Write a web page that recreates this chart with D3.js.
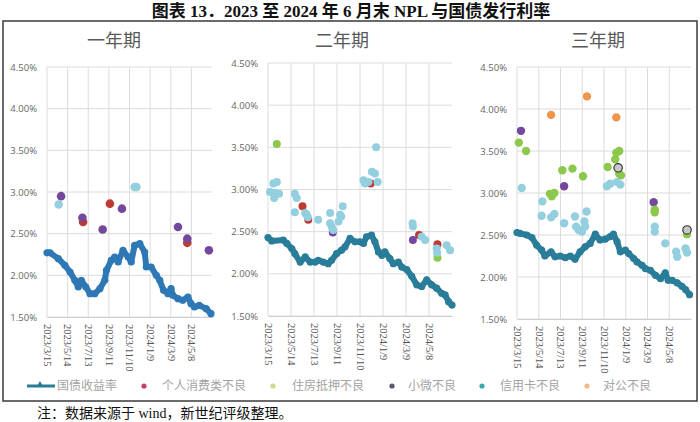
<!DOCTYPE html>
<html><head><meta charset="utf-8">
<script src="https://cdn.jsdelivr.net/npm/d3@7/dist/d3.min.js"></script>
<style>
body{margin:0;background:#fff;}
svg{display:block;}
</style></head>
<body>
<svg id="c" width="700" height="422"></svg>
<script>
// ---------------- DATA ----------------
const chartTitle = "图表 13．2023 至 2024 年 6 月末 NPL 与国债发行利率";
const panelTitles = ["一年期", "二年期", "三年期"];
const tickDates = ["2023/3/15","2023/5/14","2023/7/13","2023/9/11","2023/11/10","2024/1/9","2024/3/9","2024/5/8"];
const yTicks = [1.5, 2.0, 2.5, 3.0, 3.5, 4.0, 4.5];
const seriesNames = ["国债收益率","个人消费类不良","住房抵押不良","小微不良","信用卡不良","对公不良"];
const footnote = "注：数据来源于 wind，新世纪评级整理。";
// points are [days after 2023/3/15, rate %]

// 一年期
const bond1 = [[0,2.27],[9,2.27],[33,2.20],[52,2.12],[67,2.04],[81,1.94],[91,1.86],[100,1.94],[113,1.86],[125,1.78],[139,1.78],[154,1.84],[168,1.94],[173,2.06],[187,2.18],[197,2.22],[207,2.16],[221,2.30],[236,2.22],[245,2.16],[255,2.36],[270,2.38],[284,2.28],[289,2.10],[303,2.10],[318,2.00],[328,1.94],[339,1.82],[352,1.78],[361,1.84],[366,1.76],[381,1.72],[395,1.70],[410,1.74],[419,1.66],[429,1.62],[443,1.64],[463,1.60],[477,1.54]];
const consumer1 = [[105,2.64],[183,2.86],[408,2.39]];
const mortgage1 = [];
const smallBiz1 = [[41,2.95],[103,2.69],[162,2.55],[218,2.80],[381,2.58],[408,2.44],[471,2.30]];
const card1 = [[34,2.85],[255,3.06],[260,3.06]];
const corp1 = [];
const ring1 = [];

// 二年期
const bond2 = [[0,2.43],[10,2.39],[40,2.40],[49,2.36],[62,2.30],[70,2.24],[84,2.14],[97,2.20],[110,2.14],[123,2.14],[131,2.16],[144,2.14],[157,2.12],[166,2.16],[179,2.24],[192,2.28],[201,2.32],[214,2.42],[227,2.38],[240,2.38],[249,2.36],[257,2.44],[270,2.46],[279,2.38],[288,2.26],[297,2.22],[305,2.26],[318,2.18],[327,2.12],[340,2.14],[349,2.08],[362,2.05],[375,1.97],[388,1.87],[401,1.85],[414,1.93],[427,1.87],[440,1.83],[453,1.77],[462,1.75],[471,1.67],[480,1.63]];
const consumer2 = [[90,2.80],[105,2.64],[268,3.07],[394,2.46],[442,2.35]];
const mortgage2 = [[23,3.54],[442,2.19]];
const smallBiz2 = [[169,2.49],[378,2.40]];
const card2 = [[14,3.07],[23,3.09],[5,2.97],[18,2.96],[29,2.95],[16,2.90],[70,2.95],[75,2.90],[70,2.73],[101,2.70],[97,2.72],[104,2.67],[131,2.64],[162,2.72],[188,2.70],[195,2.80],[162,2.60],[166,2.56],[170,2.52],[184,2.62],[191,2.68],[253,3.07],[262,3.09],[271,3.21],[279,3.19],[286,3.09],[249,3.11],[282,3.50],[377,2.60],[378,2.56],[401,2.44],[410,2.40],[440,2.30],[441,2.25],[466,2.34],[475,2.28]];
const corp2 = [];
const ring2 = [];

// 三年期
const bond3 = [[0,2.53],[8,2.52],[27,2.50],[41,2.47],[54,2.38],[68,2.32],[77,2.25],[94,2.30],[105,2.24],[119,2.25],[133,2.23],[147,2.25],[160,2.21],[174,2.30],[188,2.36],[202,2.40],[216,2.51],[229,2.44],[243,2.45],[257,2.48],[266,2.51],[276,2.42],[285,2.30],[299,2.32],[308,2.28],[322,2.22],[331,2.18],[345,2.14],[354,2.10],[368,2.08],[382,2.02],[396,1.98],[409,2.05],[417,1.96],[428,1.96],[442,1.93],[455,1.89],[465,1.85],[476,1.79]];
const consumer3 = [];
const mortgage3 = [[5,3.60],[25,3.50],[125,3.27],[153,3.29],[182,3.20],[91,2.99],[103,3.00],[96,2.96],[250,3.31],[274,3.48],[282,3.50],[271,3.40],[282,3.23],[287,3.21],[380,2.80],[380,2.77],[469,2.51]];
const smallBiz3 = [[11,3.74],[130,3.08],[377,2.89]];
const card3 = [[13,3.06],[70,2.90],[68,2.73],[94,2.71],[103,2.75],[130,2.64],[160,2.72],[163,2.60],[170,2.56],[186,2.66],[192,2.78],[188,2.60],[179,2.54],[248,3.08],[257,3.11],[276,3.13],[285,3.10],[380,2.60],[380,2.54],[409,2.40],[439,2.30],[442,2.24],[465,2.34],[469,2.29]];
const corp3 = [[94,3.93],[193,4.15],[274,3.90]];
const ring3 = [[279,3.30],[469,2.56]];

// ---------------- DRAW ----------------
const svg = d3.select("#c");
const parse = d3.timeParse("%Y/%m/%d");
const START = parse(tickDates[0]);
const fmt = d3.timeFormat("%Y/%-m/%-d");
const toDate = d => d3.timeDay.offset(START, d);

const colors = {line1:"#2e78b5", line:"#2a7d99", consumer:"#bf3a33", mortgage:"#8cc84b", smallBiz:"#74489d", card:"#94cfe0", corp:"#f0954a"};

svg.append("text").attr("x", 351).attr("y", 17).attr("text-anchor","middle")
  .attr("font-family","'Liberation Serif','Noto Sans CJK SC',serif").attr("font-weight","bold")
  .attr("font-size", 17).attr("fill","#111").text(chartTitle);

svg.append("rect").attr("x",3).attr("y",21).attr("width",694).attr("height",380)
  .attr("fill","none").attr("stroke","#3a3a3a").attr("stroke-width",1.5);

const panels = [
  {left:47, right:212, top:67, bottom:317, titleX:114, lineColor:colors.line1, r:4.3,
   bond:bond1, consumer:consumer1, mortgage:mortgage1, smallBiz:smallBiz1, card:card1, corp:corp1, ring:ring1},
  {left:268, right:452, top:63, bottom:316, titleX:342, lineColor:colors.line, r:4,
   bond:bond2, consumer:consumer2, mortgage:mortgage2, smallBiz:smallBiz2, card:card2, corp:corp2, ring:ring2},
  {left:517, right:691, top:67, bottom:319, titleX:598, lineColor:colors.line, r:4.2,
   bond:bond3, consumer:consumer3, mortgage:mortgage3, smallBiz:smallBiz3, card:card3, corp:corp3, ring:ring3}
];

panels.forEach((p, i) => {
  const x = d3.scaleTime().domain([START, toDate(480)]).range([p.left, p.right]);
  const y = d3.scaleLinear().domain([1.5, 4.5]).range([p.bottom, p.top]);
  const g = svg.append("g");

  g.append("text").attr("x", p.titleX).attr("y", 47).attr("text-anchor","middle")
    .attr("font-family","'Noto Sans CJK SC',sans-serif").attr("font-size",18)
    .attr("fill","#595959").text(panelTitles[i]);

  const ticks = tickDates.map(parse);
  // grid
  g.selectAll("line.h").data(yTicks).join("line")
    .attr("x1", p.left).attr("x2", p.right).attr("y1", d => y(d)).attr("y2", d => y(d))
    .attr("stroke","#dcdcdc").attr("stroke-width",1);
  g.selectAll("line.v").data(ticks).join("line")
    .attr("x1", d => x(d)).attr("x2", d => x(d)).attr("y1", p.top).attr("y2", p.bottom)
    .attr("stroke","#dcdcdc").attr("stroke-width",1);

  // y axis labels
  const ya = g.append("g").attr("transform", `translate(${p.left},0)`)
    .call(d3.axisLeft(y).tickValues(yTicks).tickSize(0).tickPadding(10).tickFormat(d => d.toFixed(2) + "%"));
  ya.select(".domain").remove();
  ya.selectAll("text").attr("font-family","'Open Sans',sans-serif").attr("font-size",9.5).attr("fill","#666");

  // x axis labels
  const xa = g.append("g").attr("transform", `translate(0,${p.bottom})`)
    .call(d3.axisBottom(x).tickValues(ticks).tickSize(0).tickFormat(fmt));
  xa.select(".domain").attr("stroke","#d0d0d0");
  xa.selectAll("text").attr("font-family","'Liberation Serif',serif").attr("font-size",10.5).attr("fill","#555")
    .attr("transform","rotate(90)").attr("text-anchor","start").attr("dy","0.35em").attr("x",7).attr("y",0);

  // bond line (thick line with dense markers)
  const line = d3.line().x(d => x(toDate(d[0]))).y(d => y(d[1])).curve(d3.curveLinear);
  g.append("path").datum(p.bond).attr("d", line).attr("fill","none")
    .attr("stroke", p.lineColor).attr("stroke-width",6).attr("stroke-linejoin","round").attr("stroke-linecap","round");
  g.append("g").selectAll("circle").data(p.bond).join("circle")
    .attr("cx", d => x(toDate(d[0]))).attr("cy", d => y(d[1])).attr("r", 3.6).attr("fill", p.lineColor);

  const dots = (data, color, stroke) => g.append("g").selectAll("circle").data(data).join("circle")
    .attr("cx", d => x(toDate(d[0]))).attr("cy", d => y(d[1])).attr("r", p.r)
    .attr("fill", color).attr("stroke", stroke || "none").attr("stroke-width", stroke ? 1.2 : 0);
  dots(p.consumer, colors.consumer);
  dots(p.smallBiz, colors.smallBiz);
  dots(p.mortgage, colors.mortgage);
  dots(p.card, colors.card);
  dots(p.corp, colors.corp);
  dots(p.ring, "#c8c8c8", "#333");
});

// legend
const legend = svg.append("g").attr("font-family","'Noto Sans CJK SC',sans-serif").attr("font-size",12).attr("fill","#a3a3a3");
const legY = 386;
legend.append("line").attr("x1",27).attr("x2",55).attr("y1",legY).attr("y2",legY).attr("stroke",colors.line).attr("stroke-width",3);
legend.append("path").attr("d", d3.symbol(d3.symbolTriangle, 22)()).attr("transform",`translate(40,${legY-1})`).attr("fill",colors.line);
legend.append("text").attr("x",57).attr("y",legY+4).text(seriesNames[0]);
const legDots = [
  {cx:144, tx:162, color:"#c9405a"},
  {cx:273, tx:292, color:"#c9dc8c"},
  {cx:392, tx:408, color:"#555a66"},
  {cx:482, tx:500, color:"#3aa9b2"},
  {cx:587, tx:603, color:"#f2b985"}
];
legDots.forEach((l, i) => {
  legend.append("circle").attr("cx", l.cx).attr("cy", legY).attr("r", 2.6).attr("fill", l.color);
  legend.append("text").attr("x", l.tx).attr("y", legY+4).text(seriesNames[i+1]);
});

svg.append("text").attr("x",37).attr("y",418)
  .attr("font-family","'Liberation Serif','Noto Sans CJK SC',serif").attr("font-size",14).attr("fill","#111")
  .text(footnote);
</script>
</body></html>
